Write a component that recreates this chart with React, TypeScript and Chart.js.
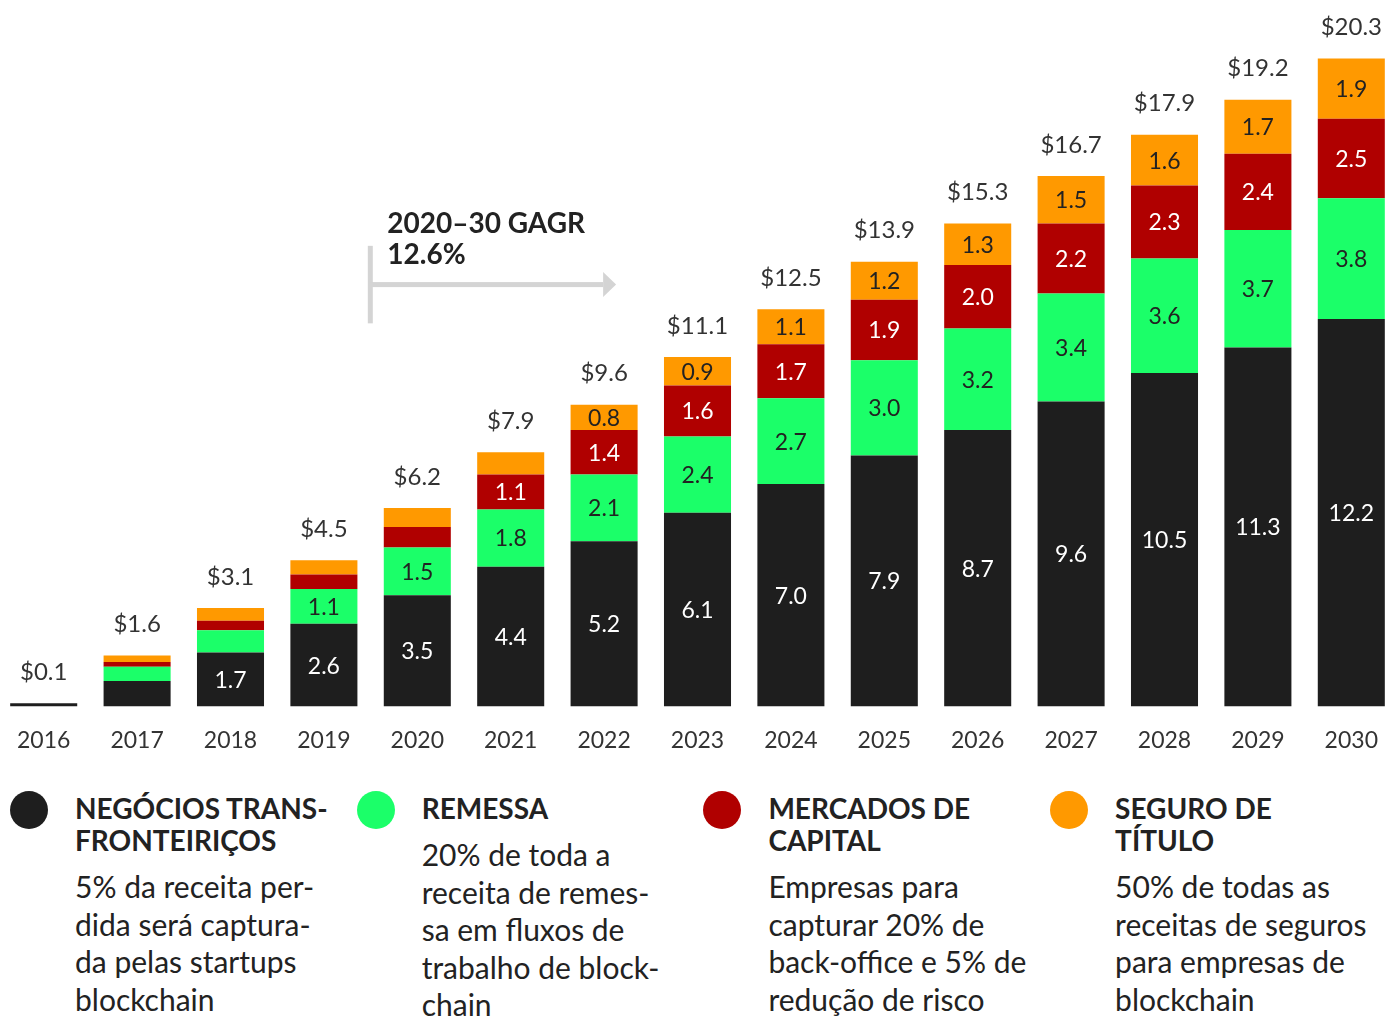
import React, { useEffect, useRef } from "react";
import { Chart, registerables } from "chart.js";
Chart.register(...registerables);

const FONT = "Lato";

const years = ["2016", "2017", "2018", "2019", "2020", "2021", "2022", "2023", "2024", "2025", "2026", "2027", "2028", "2029", "2030"];
const crossBorder = [0.1, 0.8, 1.7, 2.6, 3.5, 4.4, 5.2, 6.1, 7.0, 7.9, 8.7, 9.6, 10.5, 11.3, 12.2];
const remittance = [0, 0.45, 0.7, 1.1, 1.5, 1.8, 2.1, 2.4, 2.7, 3.0, 3.2, 3.4, 3.6, 3.7, 3.8];
const capitalMarkets = [0, 0.15, 0.3, 0.45, 0.65, 1.1, 1.4, 1.6, 1.7, 1.9, 2.0, 2.2, 2.3, 2.4, 2.5];
const titleInsurance = [0, 0.2, 0.4, 0.45, 0.6, 0.7, 0.8, 0.9, 1.1, 1.2, 1.3, 1.5, 1.6, 1.7, 1.9];
const totals = ["$0.1", "$1.6", "$3.1", "$4.5", "$6.2", "$7.9", "$9.6", "$11.1", "$12.5", "$13.9", "$15.3", "$16.7", "$17.9", "$19.2", "$20.3"];

const seriesNames = ["Negócios transfronteiriços", "Remessa", "Mercados de capital", "Seguro de título"];
const seriesColors = ["#1e1e1e", "#1bff69", "#b00000", "#ff9900"];
const labelColors = ["#ffffff", "#222222", "#ffffff", "#222222"];

const annotationTitle = "2020–30 GAGR";
const annotationValue = "12.6%";

const legendItems = [
  { color: "#1e1e1e", head: ["NEGÓCIOS TRANS-", "FRONTEIRIÇOS"], body: ["5% da receita per-", "dida será captura-", "da pelas startups", "blockchain"] },
  { color: "#1bff69", head: ["REMESSA"], body: ["20% de toda a", "receita de remes-", "sa em fluxos de", "trabalho de block-", "chain"] },
  { color: "#b00000", head: ["MERCADOS DE", "CAPITAL"], body: ["Empresas para", "capturar 20% de", "back-office e 5% de", "redução de risco"] },
  { color: "#ff9900", head: ["SEGURO DE", "TÍTULO"], body: ["50% de todas as", "receitas de seguros", "para empresas de", "blockchain"] },
];

const labelPlugin = {
  id: "segLabels",
  afterDatasetsDraw(chart: any) {
    const ctx = chart.ctx;
    ctx.save();
    ctx.textAlign = "center";
    ctx.textBaseline = "middle";
    const n = chart.data.datasets.length;
    for (let d = 0; d < n; d++) {
      const meta = chart.getDatasetMeta(d);
      const vals = chart.data.datasets[d].data as number[];
      meta.data.forEach((bar: any, i: number) => {
        const v = vals[i];
        if (v >= 0.8 && i >= 2) {
          ctx.fillStyle = labelColors[d];
          ctx.font = `23px ${FONT}`;
          ctx.fillText(v.toFixed(1), bar.x, (bar.y + bar.base) / 2 + 1);
        }
      });
    }
    const top = chart.getDatasetMeta(n - 1);
    top.data.forEach((bar: any, i: number) => {
      ctx.fillStyle = "#333333";
      ctx.font = `24px ${FONT}`;
      ctx.fillText(totals[i], bar.x, bar.y - 31);
    });
    ctx.restore();
  },
};

const annotationPlugin = {
  id: "gagr",
  afterDatasetsDraw(chart: any) {
    const ctx = chart.ctx;
    const xs = chart.scales.x;
    const ys = chart.scales.y;
    const x0 = xs.getPixelForValue(4) - 47;
    const xTip = xs.getPixelForValue(6) + 12;
    const yTop = ys.getPixelForValue(14.5);
    const yBot = ys.getPixelForValue(12.06);
    const yArrow = ys.getPixelForValue(13.28);
    ctx.save();
    ctx.fillStyle = "#d4d4d4";
    ctx.fillRect(x0 - 2.5, yTop, 5, yBot - yTop);
    ctx.fillRect(x0, yArrow - 2.5, xTip - 13 - x0, 5);
    ctx.beginPath();
    ctx.moveTo(xTip - 13, yArrow - 12.5);
    ctx.lineTo(xTip, yArrow);
    ctx.lineTo(xTip - 13, yArrow + 12.5);
    ctx.closePath();
    ctx.fill();
    ctx.fillStyle = "#222222";
    ctx.font = `bold 28px ${FONT}`;
    ctx.textAlign = "left";
    ctx.textBaseline = "alphabetic";
    ctx.fillText(annotationTitle, x0 + 17, ys.getPixelForValue(14.9));
    ctx.fillText(annotationValue, x0 + 17, ys.getPixelForValue(13.92));
    ctx.restore();
  },
};

function BarChart() {
  const ref = useRef<HTMLCanvasElement>(null);
  useEffect(() => {
    const series = [crossBorder, remittance, capitalMarkets, titleInsurance];
    const chart = new Chart(ref.current as HTMLCanvasElement, {
      type: "bar",
      data: {
        labels: years,
        datasets: series.map((s, k) => ({
          label: seriesNames[k],
          data: s,
          backgroundColor: seriesColors[k],
          borderWidth: 0,
          categoryPercentage: 1,
          barPercentage: 0.7177,
        })),
      },
      options: {
        animation: false,
        responsive: false,
        maintainAspectRatio: false,
        layout: { padding: 0 },
        plugins: { legend: { display: false }, tooltip: { enabled: false } },
        scales: {
          x: {
            stacked: true,
            grid: { display: false, drawTicks: false },
            border: { display: false },
            ticks: { color: "#333333", font: { family: FONT, size: 23 }, padding: 20, maxRotation: 0, autoSkip: false },
          },
          y: { stacked: true, display: false, min: 0, max: 22.24 },
        },
      },
      plugins: [labelPlugin, annotationPlugin],
    });
    return () => chart.destroy();
  }, []);
  return (
    <canvas
      ref={ref}
      width={1401}
      height={774}
      style={{ position: "absolute", left: -3, top: 0, width: 1401, height: 774 }}
    />
  );
}

export default function App() {
  return (
    <div style={{ position: "absolute", left: 0, top: 0, width: 1386, height: 1017, overflow: "hidden", background: "#fff", fontFamily: FONT, color: "#222" }}>
      <BarChart />
      {legendItems.map((it, k) => (
        <div key={k} style={{ position: "absolute", left: 10 + k * 346.7, top: 791, width: 340 }}>
          <div style={{ position: "absolute", left: 0, top: 0, width: 38, height: 38, borderRadius: "50%", background: it.color }} />
          <div style={{ position: "absolute", left: 65, top: 1, whiteSpace: "nowrap" }}>
            <div style={{ fontWeight: 700, fontSize: 28, lineHeight: "32px" }}>
              {it.head.map((h, j) => (<div key={j}>{h}</div>))}
            </div>
            <div style={{ marginTop: 12, fontSize: 30, lineHeight: "37.5px" }}>
              {it.body.map((b, j) => (<div key={j}>{b}</div>))}
            </div>
          </div>
        </div>
      ))}
    </div>
  );
}
